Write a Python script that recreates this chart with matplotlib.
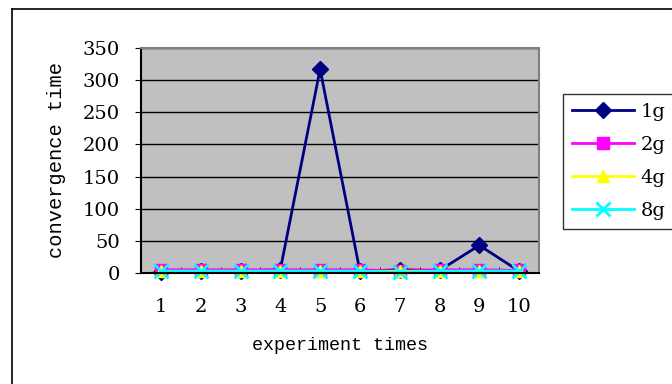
import matplotlib.pyplot as plt
from matplotlib.lines import Line2D

# data
runs = [1, 2, 3, 4, 5, 6, 7, 8, 9, 10]
g1 = [1, 3, 3, 5, 317, 3, 5, 4, 43, 3]
g2 = [5, 5, 5, 5, 5, 5, 3, 5, 5, 4]
g4 = [3, 3, 3, 3, 3, 3, 3, 3, 3, 3]
g8 = [3, 3, 3, 3, 3, 3, 1, 3, 3, 3]
yticks = [0, 50, 100, 150, 200, 250, 300, 350]

MONO = 'Liberation Mono'
SERIF = 'DejaVu Serif'

fig = plt.figure(figsize=(6.72, 3.84), dpi=100)
ax = fig.add_axes([141/672, 1-273/384, 398/672, 225/384])
ax.set_facecolor('#C0C0C0')

ax.plot(runs, g1, '-D', color='#000080', lw=2, ms=8, label='1g', clip_on=False)
ax.plot(runs, g2, '-s', color='#FF00FF', lw=2, ms=8, label='2g', clip_on=False)
ax.plot(runs, g4, '-^', color='#FFFF00', lw=2, ms=9, label='4g', clip_on=False)
ax.plot(runs, g8, '-x', color='#00FFFF', lw=2, ms=10, mew=2, label='8g', clip_on=False)

ax.set_xlim(0.5, 10.5)
ax.set_ylim(0, 350)
ax.set_yticks(yticks)
ax.set_xticks(runs)
ax.set_xticks([i + 0.5 for i in range(10)], minor=True)
ax.tick_params(axis='x', which='major', length=0, pad=18)
ax.tick_params(axis='x', which='minor', direction='in', length=4, color='black')
ax.tick_params(axis='y', direction='out', length=4, pad=11)
for lab in ax.get_xticklabels() + ax.get_yticklabels():
    lab.set_fontfamily(SERIF)
    lab.set_fontsize(14)
ax.yaxis.grid(True, color='black', lw=1)
ax.set_axisbelow(True)

ax.spines['top'].set_color('#808080')
ax.spines['right'].set_color('#808080')
for s in ax.spines.values():
    s.set_linewidth(1.5)

ax.set_xlabel('experiment times', fontfamily=MONO, fontsize=13.2, labelpad=15)
ax.set_ylabel('convergence time', fontfamily=MONO, fontsize=14.7, labelpad=12)

leg = fig.legend(loc='upper left', bbox_to_anchor=(563/672, 1-94/384),
                 frameon=True, fancybox=False, edgecolor='black',
                 prop={'family': SERIF, 'size': 14}, handlelength=3.2,
                 labelspacing=0.78, borderaxespad=0, handletextpad=0.35,
                 borderpad=0.45)
leg.get_frame().set_linewidth(1)

# outer chart frame
fig.add_artist(Line2D([12/672, 12/672], [0, 1-9/384], color='black', lw=1.2))
fig.add_artist(Line2D([12/672, 1], [1-9/384, 1-9/384], color='black', lw=1.2))

fig.savefig('out.png', dpi=100)
